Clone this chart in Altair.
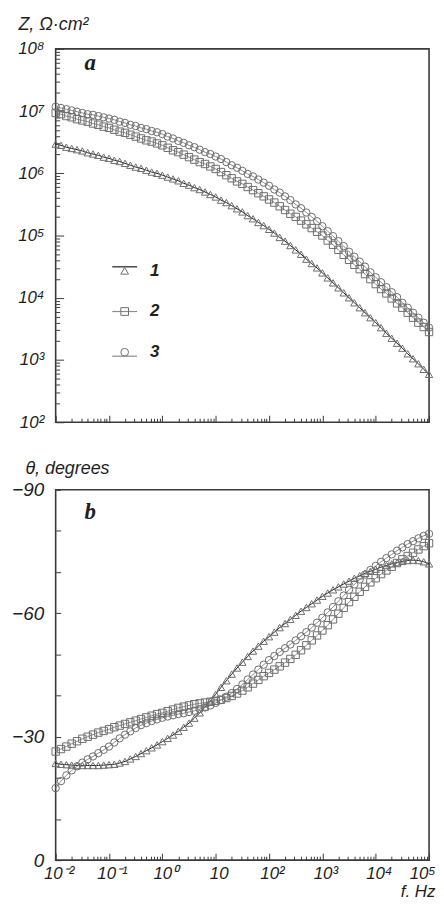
import altair as alt
import pandas as pd

# ---------------- data ----------------
LOG_F = [-2.0, -1.9, -1.8, -1.7, -1.6, -1.5, -1.4, -1.3, -1.2, -1.1, -1.0,
         -0.9, -0.8, -0.7, -0.6, -0.5, -0.4, -0.3, -0.2, -0.1, 0.0,
         0.1, 0.2, 0.3, 0.4, 0.5, 0.6, 0.7, 0.8, 0.9, 1.0,
         1.1, 1.2, 1.3, 1.4, 1.5, 1.6, 1.7, 1.8, 1.9, 2.0,
         2.1, 2.2, 2.3, 2.4, 2.5, 2.6, 2.7, 2.8, 2.9, 3.0,
         3.1, 3.2, 3.3, 3.4, 3.5, 3.6, 3.7, 3.8, 3.9, 4.0,
         4.1, 4.2, 4.3, 4.4, 4.5, 4.6, 4.7, 4.8, 4.9, 5.0]

SERIES = ["1", "2", "3"]
LINE_KEYS = ["l1", "l2", "l3"]

# log10 |Z|, Ohm*cm2
LOGZ_1 = [6.47, 6.45, 6.42, 6.40, 6.38, 6.36, 6.33, 6.31, 6.29, 6.26, 6.24,
          6.21, 6.19, 6.16, 6.13, 6.10, 6.08, 6.05, 6.02, 6.00, 5.97,
          5.94, 5.91, 5.88, 5.84, 5.81, 5.77, 5.74, 5.70, 5.66, 5.62,
          5.57, 5.53, 5.48, 5.43, 5.38, 5.32, 5.27, 5.21, 5.16, 5.10,
          5.04, 4.97, 4.91, 4.84, 4.77, 4.70, 4.62, 4.55, 4.48, 4.40,
          4.32, 4.24, 4.16, 4.08, 4.00, 3.92, 3.84, 3.76, 3.68, 3.60,
          3.52, 3.43, 3.35, 3.27, 3.19, 3.10, 3.02, 2.94, 2.85, 2.77]
LOGZ_2 = [6.97, 6.95, 6.92, 6.90, 6.87, 6.85, 6.83, 6.80, 6.78, 6.75, 6.73,
          6.70, 6.67, 6.65, 6.62, 6.59, 6.56, 6.53, 6.51, 6.48, 6.45,
          6.41, 6.37, 6.34, 6.30, 6.26, 6.22, 6.18, 6.15, 6.11, 6.07,
          6.02, 5.97, 5.92, 5.87, 5.83, 5.78, 5.73, 5.68, 5.63, 5.58,
          5.53, 5.47, 5.41, 5.35, 5.30, 5.24, 5.18, 5.12, 5.06, 5.00,
          4.92, 4.85, 4.77, 4.69, 4.61, 4.53, 4.46, 4.38, 4.30, 4.22,
          4.14, 4.07, 3.99, 3.91, 3.84, 3.76, 3.68, 3.60, 3.53, 3.45]
LOGZ_3 = [7.07, 7.05, 7.03, 7.01, 6.99, 6.97, 6.95, 6.94, 6.92, 6.90, 6.88,
          6.86, 6.83, 6.81, 6.78, 6.76, 6.73, 6.71, 6.68, 6.66, 6.63,
          6.59, 6.56, 6.52, 6.49, 6.45, 6.42, 6.38, 6.34, 6.31, 6.27,
          6.23, 6.18, 6.13, 6.09, 6.04, 5.99, 5.95, 5.90, 5.85, 5.80,
          5.74, 5.69, 5.63, 5.57, 5.50, 5.44, 5.37, 5.30, 5.23, 5.15,
          5.07, 4.99, 4.91, 4.83, 4.74, 4.66, 4.58, 4.50, 4.41, 4.33,
          4.25, 4.17, 4.09, 4.01, 3.92, 3.84, 3.76, 3.68, 3.60, 3.52]

# phase angle, degrees
THETA_1 = [-23.5, -23.3, -23.2, -23.1, -23.0, -23.0, -23.0, -23.0, -23.0, -23.1, -23.2,
           -23.3, -23.6, -24.0, -24.6, -25.2, -25.9, -26.6, -27.3, -28.0, -28.8,
           -29.6, -30.4, -31.3, -32.3, -33.3, -34.5, -35.8, -37.2, -38.7, -40.3,
           -42.0, -43.6, -45.2, -46.7, -48.1, -49.5, -50.8, -52.0, -53.2, -54.3,
           -55.4, -56.5, -57.5, -58.5, -59.5, -60.5, -61.4, -62.3, -63.2, -64.1,
           -64.9, -65.7, -66.4, -67.1, -67.8, -68.5, -69.1, -69.7, -70.2, -70.7,
           -71.2, -71.6, -72.0, -72.3, -72.6, -72.8, -72.9, -72.8, -72.5, -72.0]
THETA_2 = [-26.4, -27.0, -27.6, -28.3, -28.9, -29.5, -30.0, -30.5, -31.0, -31.4, -31.8,
           -32.3, -32.7, -33.1, -33.5, -33.9, -34.3, -34.7, -35.1, -35.5, -35.8,
           -36.2, -36.6, -37.0, -37.3, -37.6, -37.9, -38.1, -38.3, -38.5, -38.7,
           -39.0, -39.4, -39.9, -40.5, -41.2, -42.0, -42.9, -43.8, -44.7, -45.5,
           -46.3, -47.1, -48.0, -48.9, -49.9, -51.0, -52.2, -53.4, -54.6, -55.8,
           -57.1, -58.5, -59.9, -61.3, -62.7, -64.0, -65.2, -66.4, -67.5, -68.5,
           -69.5, -70.4, -71.3, -72.2, -73.1, -73.9, -74.7, -75.5, -76.3, -77.0]
THETA_3 = [-17.5, -19.2, -20.6, -21.8, -22.8, -23.7, -24.5, -25.2, -26.0, -26.8, -27.6,
           -28.6, -29.6, -30.5, -31.3, -32.1, -32.8, -33.3, -33.8, -34.2, -34.6,
           -34.9, -35.2, -35.5, -35.7, -36.0, -36.3, -36.7, -37.1, -37.6, -38.2,
           -38.9, -39.7, -40.6, -41.6, -42.7, -43.9, -45.1, -46.3, -47.5, -48.6,
           -49.6, -50.6, -51.5, -52.4, -53.4, -54.4, -55.4, -56.5, -57.7, -58.9,
           -60.2, -61.5, -62.9, -64.3, -65.7, -67.0, -68.2, -69.4, -70.5, -71.5,
           -72.5, -73.4, -74.3, -75.2, -76.0, -76.8, -77.5, -78.2, -78.8, -79.3]

X_DECADES = [0.01, 0.1, 1, 10, 100, 1000, 10000, 100000]
X_TICK_LABELS = ["10⁻²", "10⁻¹", "10⁰", "10", "10²", "10³", "10⁴", "10⁵"]
Z_DECADES = [1e2, 1e3, 1e4, 1e5, 1e6, 1e7, 1e8]
Z_TICK_LABELS = ["10²", "10³", "10⁴", "10⁵", "10⁶", "10⁷", "10⁸"]
PHASE_TICKS = [-90, -60, -30, 0]
PHASE_TICK_LABELS = ["−90", "−60", "−30", "0"]
PHASE_MINOR = [-80, -70, -50, -40, -20, -10]

X_MINOR = [m * d for d in X_DECADES[:-1] for m in range(2, 10)]
Z_MINOR = [m * d for d in Z_DECADES[:-1] for m in range(2, 10)]

rows = []
for s, lk, lz, th in zip(SERIES, LINE_KEYS, [LOGZ_1, LOGZ_2, LOGZ_3],
                         [THETA_1, THETA_2, THETA_3]):
    for lf, z, t in zip(LOG_F, lz, th):
        rows.append({"f": 10 ** lf, "Z": 10 ** z, "theta": t,
                     "series": s, "series_l": lk})
df = pd.DataFrame(rows)

# ---------------- styling ----------------
FONT = "Liberation Sans"
TXT = "#1e1e1e"
TICK = "#3a3a3a"
MARK = "#6e6e6e"
LAST = X_DECADES[-1]
PW = 376  # plot width


def label_expr(values, texts):
    parts = [f"datum.value == {v} ? '{t}'" for v, t in zip(values, texts)]
    return " : ".join(parts) + " : ''"


x_scale = alt.Scale(type="log", domain=[0.01, 1e5], nice=False)
z_scale = alt.Scale(type="log", domain=[1e2, 1e8], nice=False)
th_scale = alt.Scale(domain=[-90, 0], reverse=True, nice=False)
shape_scale = alt.Scale(domain=SERIES, range=["triangle-up", "square", "circle"])
line_scale = alt.Scale(domain=LINE_KEYS, range=["#1c1c1c", "#8c8c8c", "#8c8c8c"])


def x_main(show_labels):
    kw = dict(orient="bottom", values=X_DECADES, tickSize=7, offset=-7,
              tickColor=TICK, tickWidth=1, domain=False, grid=False,
              labels=show_labels, labelOverlap=False, labelFlush=False)
    if show_labels:
        kw.update(labelExpr=label_expr(X_DECADES, X_TICK_LABELS), labelFont=FONT,
                  labelFontStyle="italic", labelFontSize=17, labelColor=TXT,
                  labelPadding=5,
                  labelAlign={"condition": {"test": f"datum.value == {LAST}",
                                            "value": "right"},
                              "value": "center"},
                  labelOffset={"condition": {"test": f"datum.value == {LAST}",
                                             "value": 6},
                               "value": 3},
                  title="f. Hz", titleFont=FONT,
                  titleFontStyle="italic", titleFontWeight="normal",
                  titleFontSize=17, titleColor=TXT, titleAngle=0,
                  titleAlign="right", titleBaseline="alphabetic",
                  titleX=PW + 6, titleY=44)
    else:
        kw.update(title=None)
    return alt.Axis(**kw)


def ticks_only(orient, values, size):
    return alt.Axis(orient=orient, values=values, tickSize=size, offset=-size,
                    tickColor=TICK, tickWidth=1, domain=False, grid=False,
                    labels=False, title=None)


# ---------------- panel a ----------------
z_axis = alt.Axis(orient="left", values=Z_DECADES, tickSize=8, offset=-8,
                  tickColor=TICK, tickWidth=1, domain=False, grid=False,
                  labelExpr=label_expr(Z_DECADES, Z_TICK_LABELS), labelFont=FONT,
                  labelFontStyle="italic", labelFontSize=17, labelColor=TXT,
                  labelPadding=12, labelOverlap=False, labelFlush=False,
                  title="Z, Ω·cm²", titleFont=FONT, titleFontStyle="italic",
                  titleFontWeight="normal", titleFontSize=18, titleColor=TXT,
                  titleAngle=0, titleAlign="left", titleBaseline="alphabetic",
                  titleX=-46, titleY=-19)

line_legend = alt.Legend(orient="none", legendX=56, legendY=206, title=None,
                         symbolType="stroke", symbolSize=625, symbolStrokeWidth=1.2,
                         labelFont=FONT, labelFontSize=17, labelFontWeight="bold",
                         labelFontStyle="italic", labelExpr="' '", rowPadding=23,
                         labelOffset=10, padding=0)
shape_legend = alt.Legend(orient="none", legendX=61, legendY=215, title=None,
                          symbolSize=60, symbolStrokeWidth=1,
                          symbolStrokeColor=MARK, symbolFillColor="transparent",
                          labelFont=FONT, labelFontSize=17, labelFontWeight="bold",
                          labelFontStyle="italic", labelColor=TXT, rowPadding=23,
                          labelOffset=17, padding=0)

lines_a = alt.Chart(df).mark_line(strokeWidth=1).encode(
    x=alt.X("f:Q", scale=x_scale, axis=x_main(False)),
    y=alt.Y("Z:Q", scale=z_scale, axis=z_axis),
    color=alt.Color("series_l:N", scale=line_scale, legend=line_legend),
)
points_a = alt.Chart(df).mark_point(filled=False, size=55, strokeWidth=1,
                                    color=MARK, opacity=1).encode(
    x=alt.X("f:Q", scale=x_scale, axis=ticks_only("bottom", X_MINOR, 4)),
    y=alt.Y("Z:Q", scale=z_scale, axis=ticks_only("left", Z_MINOR, 4)),
    shape=alt.Shape("series:N", scale=shape_scale, legend=shape_legend),
)
tag_a = alt.Chart(pd.DataFrame({"t": ["a"]})).mark_text(
    font="Liberation Serif", fontStyle="italic", fontWeight="bold", fontSize=23,
    align="left", baseline="alphabetic", color=TXT,
).encode(text="t:N", x=alt.value(29), y=alt.value(21))

panel_a = alt.layer(lines_a, points_a, tag_a).resolve_axis(
    x="independent", y="independent").properties(width=PW, height=376)

# ---------------- panel b ----------------
th_axis = alt.Axis(orient="left", values=PHASE_TICKS, tickSize=5, offset=-5,
                   tickColor=TICK, tickWidth=1, domain=False, grid=False,
                   labelExpr=label_expr(PHASE_TICKS, PHASE_TICK_LABELS),
                   labelFont=FONT, labelFontStyle="italic", labelFontSize=19,
                   labelColor=TXT, labelPadding=12, labelOverlap=False,
                   labelFlush=False,
                   title="θ, degrees", titleFont=FONT, titleFontStyle="italic",
                   titleFontWeight="normal", titleFontSize=18, titleColor=TXT,
                   titleAngle=0, titleAlign="left", titleBaseline="alphabetic",
                   titleX=-36, titleY=-16)

lines_b = alt.Chart(df).mark_line(strokeWidth=1).encode(
    x=alt.X("f:Q", scale=x_scale, axis=x_main(True)),
    y=alt.Y("theta:Q", scale=th_scale, axis=th_axis),
    color=alt.Color("series_l:N", scale=line_scale, legend=None),
)
points_b = alt.Chart(df).mark_point(filled=False, size=55, strokeWidth=1,
                                    color=MARK, opacity=1).encode(
    x=alt.X("f:Q", scale=x_scale, axis=ticks_only("bottom", X_MINOR, 4)),
    y=alt.Y("theta:Q", scale=th_scale, axis=ticks_only("left", PHASE_MINOR, 5)),
    shape=alt.Shape("series:N", scale=shape_scale, legend=None),
)
tag_b = alt.Chart(pd.DataFrame({"t": ["b"]})).mark_text(
    font="Liberation Serif", fontStyle="italic", fontWeight="bold", fontSize=23,
    align="left", baseline="alphabetic", color=TXT,
).encode(text="t:N", x=alt.value(29), y=alt.value(29))

panel_b = alt.layer(lines_b, points_b, tag_b).resolve_axis(
    x="independent", y="independent").properties(width=PW, height=373)

chart = alt.vconcat(panel_a, panel_b, spacing=28).resolve_scale(
    x="independent", y="independent", color="independent", shape="independent"
).properties(
    padding={"left": 2, "top": 4, "right": 0, "bottom": 0},
    background="white",
).configure_view(stroke="#3a3a3a", strokeWidth=1.6)

chart.save("out.html", embed_options={"renderer": "svg", "actions": False})
